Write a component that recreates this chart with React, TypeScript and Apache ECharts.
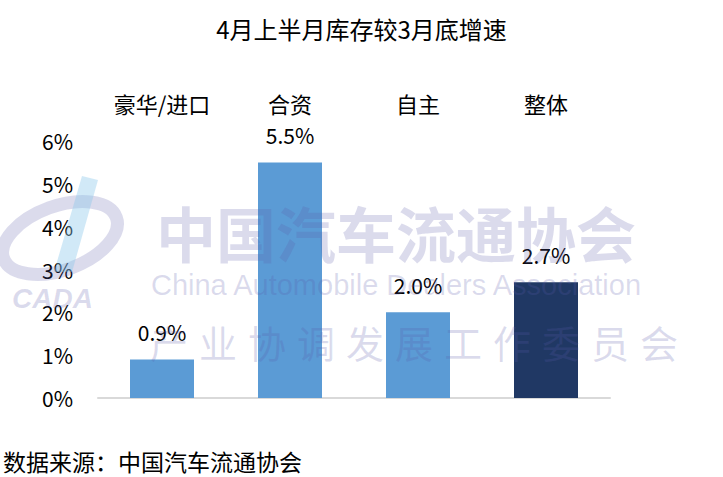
import React, { useEffect, useRef } from "react";
import * as echarts from "echarts";

const titleText = "4月上半月库存较3月底增速";
const categories = ["豪华/进口", "合资", "自主", "整体"];
const values = [0.9, 5.5, 2.0, 2.7];
const barColors = ["#5B9BD5", "#5B9BD5", "#5B9BD5", "#203864"];
const yTicks = { min: 0, max: 6, interval: 1 };
const sourceText = "数据来源：中国汽车流通协会";
const wmMain = "中国汽车流通协会";
const wmEn = "China Automobile Dealers Association";
const wmSub = "产业协调发展工作委员会";

const FONT = "'Noto Sans CJK SC', 'Noto Sans', sans-serif";

export default function App() {
  const ref = useRef<HTMLDivElement>(null);
  useEffect(() => {
    document.body.style.margin = "0";
    const chart = echarts.init(ref.current!, null, { renderer: "svg" });
    const wmFill = "rgba(90,90,170,0.22)";
    const subChars = wmSub.split("").map((c, i) => ({
      type: "text",
      left: 150 + i * 49,
      top: 322,
      z: 100,
      silent: true,
      style: { text: c, fill: wmFill, font: `38px ${FONT}` },
    }));
    chart.setOption({
      animation: false,
      title: {
        text: titleText,
        left: "center",
        top: 11,
        textStyle: { fontFamily: FONT, fontSize: 24, fontWeight: "normal", color: "#000" },
      },
      grid: { left: 98, right: 113, top: 141, bottom: 79 },
      xAxis: [
        {
          type: "category",
          data: categories,
          position: "bottom",
          axisLine: { show: true, lineStyle: { color: "#D9D9D9", width: 2 } },
          axisTick: { show: false },
          axisLabel: { show: false },
        },
        {
          type: "category",
          data: categories,
          position: "top",
          axisLine: { show: false },
          axisTick: { show: false },
          axisLabel: { margin: 27, fontFamily: FONT, fontSize: 22, color: "#000" },
        },
      ],
      yAxis: {
        type: "value",
        min: yTicks.min,
        max: yTicks.max,
        interval: yTicks.interval,
        splitLine: { show: false },
        axisLine: { show: false },
        axisTick: { show: false },
        axisLabel: { formatter: "{value}%", margin: 25, fontFamily: FONT, fontSize: 21, color: "#000" },
      },
      series: [
        {
          type: "bar",
          xAxisIndex: 0,
          barWidth: "50%",
          data: values.map((v, i) => ({ value: v, itemStyle: { color: barColors[i] } })),
          label: {
            show: true,
            position: "top",
            distance: 17,
            formatter: (p: any) => p.value.toFixed(1) + "%",
            fontFamily: FONT,
            fontSize: 21,
            color: "#000",
          },
        },
      ],
      graphic: [
        {
          type: "text",
          left: 3,
          top: 449,
          style: { text: sourceText, fill: "#000", font: `23px ${FONT}` },
        },
        {
          type: "text",
          x: 396,
          y: 231,
          z: 100,
          silent: true,
          style: {
            text: wmMain,
            fill: wmFill,
            font: `bold 60px ${FONT}`,
            textAlign: "center",
            textVerticalAlign: "middle",
          },
        },
        {
          type: "text",
          x: 396,
          y: 285,
          z: 100,
          silent: true,
          style: {
            text: wmEn,
            fill: wmFill,
            font: `29px 'Liberation Sans', Arial, sans-serif`,
            textAlign: "center",
            textVerticalAlign: "middle",
          },
        },
        ...subChars,
        {
          type: "ellipse",
          z: 100,
          silent: true,
          x: 60,
          y: 238,
          rotation: 0.35,
          shape: { cx: 0, cy: 0, rx: 60, ry: 32 },
          style: { fill: "none", stroke: wmFill, lineWidth: 13 },
        },
        {
          type: "polygon",
          z: 100,
          silent: true,
          shape: { points: [[82, 176], [98, 180], [72, 272], [54, 272]] },
          style: { fill: "rgba(140,200,235,0.4)" },
        },
        {
          type: "text",
          x: 12,
          y: 298,
          z: 100,
          silent: true,
          style: {
            text: "CADA",
            fill: wmFill,
            font: `italic 900 28px 'Liberation Sans', Arial, sans-serif`,
            textVerticalAlign: "middle",
          },
        },
      ],
    });
    return () => chart.dispose();
  }, []);
  return (
    <div
      ref={ref}
      style={{ position: "absolute", left: 0, top: 0, width: 723, height: 477 }}
    />
  );
}
